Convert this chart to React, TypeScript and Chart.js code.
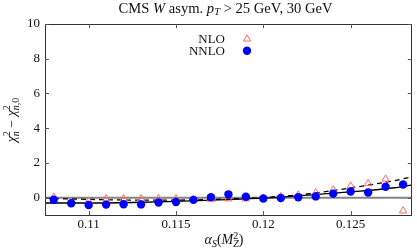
import React, { useEffect, useRef } from "react";
import { Chart, registerables } from "chart.js";

Chart.register(...registerables);

// ---- data ----
const alphaS = [
  0.108, 0.109, 0.11, 0.111, 0.112, 0.113, 0.114, 0.115, 0.116, 0.117, 0.118,
  0.119, 0.12, 0.121, 0.122, 0.123, 0.124, 0.125, 0.126, 0.127, 0.128,
];
const nloChi2 = [
  0.03, -0.28, -0.2, -0.06, -0.06, -0.06, -0.06, -0.06, -0.1, -0.09, -0.07,
  -0.07, -0.05, 0.06, 0.15, 0.28, 0.45, 0.67, 0.82, 1.07, -0.76,
];
const nnloChi2 = [
  -0.12, -0.32, -0.42, -0.4, -0.38, -0.39, -0.28, -0.25, -0.13, 0.03, 0.19,
  0.05, -0.05, -0.02, 0.02, 0.07, 0.23, 0.35, 0.3, 0.63, 0.76,
];
const fitAlphaS = [0.1075, 0.11, 0.1125, 0.115, 0.1175, 0.12, 0.1225, 0.125, 0.1275, 0.1285];
const nloFit = [-0.04, -0.1, -0.14, -0.14, -0.09, 0.01, 0.21, 0.56, 0.98, 1.2];
const nnloFit = [-0.31, -0.31, -0.28, -0.22, -0.13, -0.03, 0.14, 0.33, 0.57, 0.72];

const xTicks = [0.11, 0.115, 0.12, 0.125];
const xTickLabels = ["0.11", "0.115", "0.12", "0.125"];
const yTicks = [0, 2, 4, 6, 8, 10];
const yTickLabels = ["0", "2", "4", "6", "8", "10"];
const legendLabels = ["NLO", "NNLO"];

const X_MIN = 0.1075;
const X_MAX = 0.1285;
const Y_MIN = -1;
const Y_MAX = 10;

const SERIF = '"Liberation Serif", "Times New Roman", serif';
const NLO_COLOR = "rgb(255,105,105)";
const NNLO_COLOR = "#0000ff";
const TEXT = "#111";

type Seg = { t: string; italic?: boolean; size: number; dy?: number; noAdvance?: boolean };

function measureRich(ctx: CanvasRenderingContext2D, segs: Seg[]) {
  let w = 0;
  let pending = 0;
  for (const s of segs) {
    ctx.font = `${s.italic ? "italic " : ""}${s.size}px ${SERIF}`;
    const m = ctx.measureText(s.t).width;
    if (s.noAdvance) pending = m;
    else {
      w += Math.max(m, pending);
      pending = 0;
    }
  }
  return w;
}

function drawRich(ctx: CanvasRenderingContext2D, segs: Seg[], cx: number, baseline: number) {
  const w = measureRich(ctx, segs);
  let x = cx - w / 2;
  let pending = 0;
  ctx.textAlign = "left";
  ctx.textBaseline = "alphabetic";
  ctx.fillStyle = TEXT;
  for (const s of segs) {
    ctx.font = `${s.italic ? "italic " : ""}${s.size}px ${SERIF}`;
    const m = ctx.measureText(s.t).width;
    ctx.fillText(s.t, x, baseline + (s.dy || 0));
    if (s.noAdvance) pending = m;
    else {
      x += Math.max(m, pending);
      pending = 0;
    }
  }
}

const decorPlugin = {
  id: "decor",
  afterDraw(chart: any) {
    const ctx: CanvasRenderingContext2D = chart.ctx;
    const { left, right, top, bottom } = chart.chartArea;
    const xs = chart.scales.x;
    const ys = chart.scales.y;
    ctx.save();

    // frame
    ctx.strokeStyle = "#333";
    ctx.lineWidth = 1;
    ctx.strokeRect(Math.round(left) + 0.5, Math.round(top) + 0.5, Math.round(right - left) - 1, Math.round(bottom - top));

    // inward tick marks
    ctx.strokeStyle = "#555";
    ctx.beginPath();
    for (const t of xs.ticks) {
      const px = Math.round(xs.getPixelForValue(t.value)) + 0.5;
      ctx.moveTo(px, bottom);
      ctx.lineTo(px, bottom - 4);
      ctx.moveTo(px, top);
      ctx.lineTo(px, top + 4);
    }
    for (const t of ys.ticks) {
      const py = Math.round(ys.getPixelForValue(t.value)) + 0.5;
      ctx.moveTo(left, py);
      ctx.lineTo(left + 4, py);
      ctx.moveTo(right, py);
      ctx.lineTo(right - 4, py);
    }
    ctx.stroke();

    // title
    drawRich(
      ctx,
      [
        { t: "CMS ", size: 14.6 },
        { t: "W", italic: true, size: 14.6 },
        { t: " asym. ", size: 14.6 },
        { t: "p", italic: true, size: 14.6 },
        { t: "T", italic: true, size: 10.5, dy: 2.5 },
        { t: " > 25 GeV, 30 GeV", size: 14.6 },
      ],
      225.5,
      12.5
    );

    // x axis title
    drawRich(
      ctx,
      [
        { t: "α", italic: true, size: 14 },
        { t: "S", italic: true, size: 10, dy: 2.5 },
        { t: "(", size: 14 },
        { t: "M", italic: true, size: 14 },
        { t: "2", size: 10, dy: -5.5, noAdvance: true },
        { t: "Z", italic: true, size: 10, dy: 3 },
        { t: ")", size: 14 },
      ],
      224,
      244
    );

    // y axis title (rotated)
    ctx.save();
    ctx.translate(15.5, 120);
    ctx.rotate(-Math.PI / 2);
    drawRich(
      ctx,
      [
        { t: "χ", italic: true, size: 14 },
        { t: "2", size: 10, dy: -5.5, noAdvance: true },
        { t: "n", italic: true, size: 10, dy: 3 },
        { t: " − ", size: 14 },
        { t: "χ", italic: true, size: 14 },
        { t: "2", size: 10, dy: -5.5, noAdvance: true },
        { t: "n", italic: true, size: 10, dy: 3 },
        { t: ",0", size: 10, dy: 3 },
      ],
      0,
      0
    );
    ctx.restore();

    // legend
    ctx.font = `13px ${SERIF}`;
    ctx.fillStyle = TEXT;
    ctx.textAlign = "right";
    ctx.textBaseline = "alphabetic";
    ctx.fillText(legendLabels[0], 225, 42.5);
    ctx.fillText(legendLabels[1], 225, 54.5);
    // triangle marker
    const r = 4.2;
    const tx = 247;
    const ty = 39;
    ctx.strokeStyle = NLO_COLOR;
    ctx.lineWidth = 1;
    ctx.beginPath();
    for (let k = 0; k < 3; k++) {
      const a = (k * 2 * Math.PI) / 3;
      const px = tx + Math.sin(a) * r;
      const py = ty - Math.cos(a) * r;
      if (k === 0) ctx.moveTo(px, py);
      else ctx.lineTo(px, py);
    }
    ctx.closePath();
    ctx.stroke();
    // circle marker
    ctx.fillStyle = NNLO_COLOR;
    ctx.beginPath();
    ctx.arc(247, 50.8, 4.2, 0, Math.PI * 2);
    ctx.fill();

    ctx.restore();
  },
};

export default function App() {
  const ref = useRef<HTMLCanvasElement>(null);

  useEffect(() => {
    const canvas = ref.current;
    if (!canvas) return;
    const chart = new Chart(canvas, {
      type: "scatter",
      data: {
        datasets: [
          {
            label: "zero",
            data: [
              { x: X_MIN, y: 0 },
              { x: X_MAX, y: 0 },
            ],
            showLine: true,
            borderColor: "#858585",
            borderWidth: 2,
            pointRadius: 0,
            order: 5,
          },
          {
            label: "NLO fit",
            data: fitAlphaS.map((x, i) => ({ x, y: nloFit[i] })),
            showLine: true,
            borderColor: "#000",
            borderWidth: 1.3,
            borderDash: [5, 4],
            pointRadius: 0,
            cubicInterpolationMode: "monotone",
            order: 4,
          },
          {
            label: "NNLO fit",
            data: fitAlphaS.map((x, i) => ({ x, y: nnloFit[i] })),
            showLine: true,
            borderColor: "#000",
            borderWidth: 1.3,
            pointRadius: 0,
            cubicInterpolationMode: "monotone",
            order: 3,
          },
          {
            label: legendLabels[0],
            data: alphaS.map((x, i) => ({ x, y: nloChi2[i] })),
            pointStyle: "triangle",
            pointRadius: 4.2,
            borderColor: NLO_COLOR,
            backgroundColor: "rgba(0,0,0,0)",
            borderWidth: 1,
            order: 2,
          },
          {
            label: legendLabels[1],
            data: alphaS.map((x, i) => ({ x, y: nnloChi2[i] })),
            pointStyle: "circle",
            pointRadius: 4.2,
            borderWidth: 0,
            backgroundColor: NNLO_COLOR,
            borderColor: NNLO_COLOR,
            order: 1,
          },
        ],
      } as any,
      options: {
        animation: false,
        responsive: false,
        maintainAspectRatio: false,
        devicePixelRatio: 1,
        layout: { padding: { top: 24, right: 1, left: 0, bottom: 0 } },
        plugins: {
          legend: { display: false },
          tooltip: { enabled: false },
          title: { display: false },
        },
        scales: {
          x: {
            type: "linear",
            min: X_MIN,
            max: X_MAX,
            afterBuildTicks: (s: any) => {
              s.ticks = xTicks.map((v) => ({ value: v }));
            },
            afterFit: (s: any) => {
              s.height = 36;
            },
            grid: { display: false, drawTicks: false },
            border: { display: false },
            ticks: {
              autoSkip: false,
              maxRotation: 0,
              padding: 2,
              color: TEXT,
              font: { family: SERIF, size: 13 },
              callback: (_v: any, i: number) => xTickLabels[i],
            },
          },
          y: {
            type: "linear",
            min: Y_MIN,
            max: Y_MAX,
            afterBuildTicks: (s: any) => {
              s.ticks = yTicks.map((v) => ({ value: v }));
            },
            afterFit: (s: any) => {
              s.width = 45;
            },
            grid: { display: false, drawTicks: false },
            border: { display: false },
            ticks: {
              autoSkip: false,
              padding: 5,
              color: TEXT,
              font: { family: SERIF, size: 13 },
              callback: (_v: any, i: number) => yTickLabels[i],
            },
          },
        },
      } as any,
      plugins: [decorPlugin],
    });
    return () => chart.destroy();
  }, []);

  return (
    <div style={{ position: "fixed", left: 0, top: 0, width: 417, height: 251, background: "#fff" }}>
      <canvas ref={ref} width={417} height={251} style={{ display: "block", width: 417, height: 251 }} />
    </div>
  );
}
